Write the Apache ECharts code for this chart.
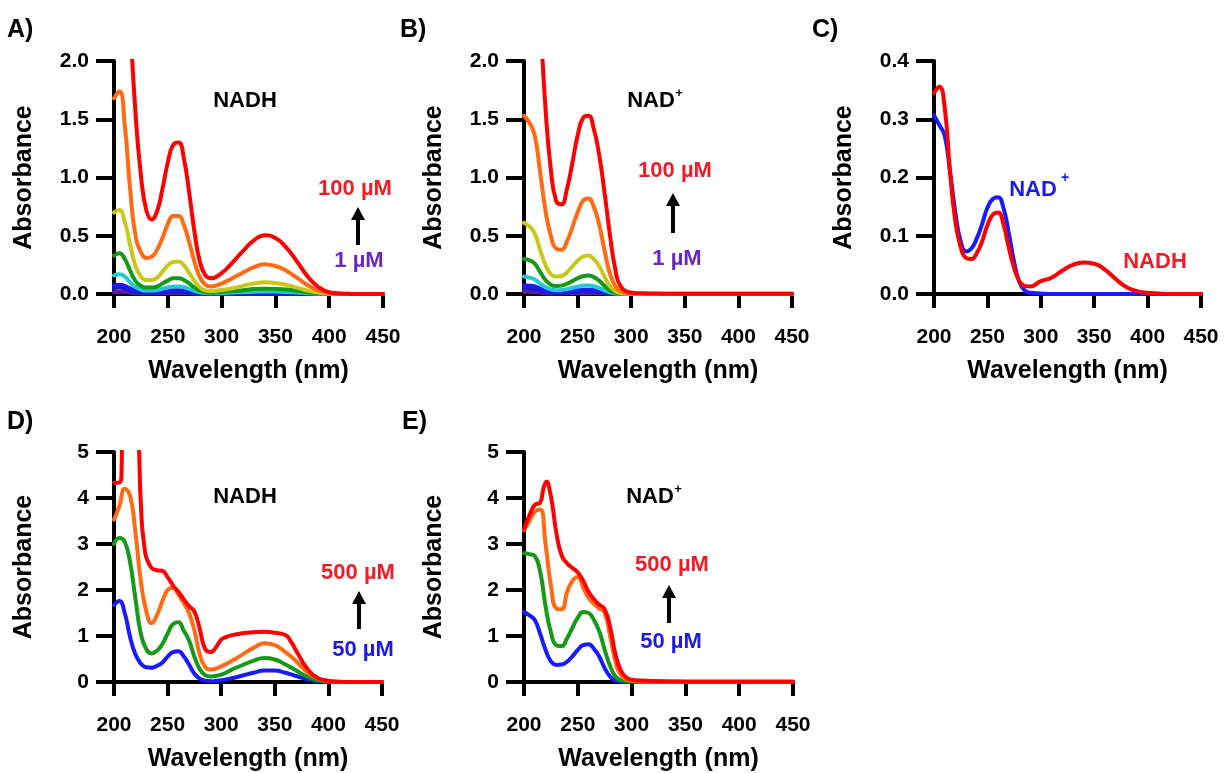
<!DOCTYPE html>
<html>
<head>
<meta charset="utf-8">
<script src="https://cdn.jsdelivr.net/npm/echarts@6/dist/echarts.min.js"></script>
<style>html,body{margin:0;padding:0;background:#fff;}#c{width:1225px;height:773px;}</style>
</head>
<body>
<div id="c"></div>
<script>
// ---------- DATA ----------
const WL = [200,205,210,215,220,225,230,235,240,245,250,255,260,265,270,275,280,285,290,300,310,320,330,340,350,360,370,380,390,400,410,420,450];

// Panel A: NADH 1–100 µM
const A_red    = [4.2,4.0,3.3,2.35,1.55,1.02,0.72,0.64,0.71,0.9,1.13,1.28,1.3,1.16,0.86,0.52,0.27,0.16,0.135,0.18,0.27,0.37,0.46,0.505,0.48,0.4,0.28,0.15,0.06,0.015,0.004,0.001,0];
const A_orange = [1.68,1.74,1.45,0.9,0.5,0.36,0.31,0.32,0.38,0.48,0.6,0.67,0.67,0.59,0.44,0.27,0.14,0.08,0.065,0.09,0.135,0.185,0.23,0.255,0.24,0.2,0.14,0.075,0.03,0.008,0.002,0,0];
const A_yellow = [0.7,0.72,0.62,0.42,0.24,0.15,0.12,0.12,0.14,0.19,0.245,0.275,0.28,0.245,0.18,0.11,0.055,0.03,0.025,0.035,0.05,0.07,0.09,0.1,0.095,0.08,0.055,0.03,0.012,0.003,0.001,0,0];
const A_green  = [0.33,0.35,0.3,0.2,0.11,0.07,0.055,0.055,0.065,0.09,0.115,0.135,0.135,0.12,0.09,0.055,0.028,0.015,0.012,0.018,0.025,0.033,0.042,0.046,0.044,0.038,0.027,0.015,0.006,0.002,0,0,0];
const A_cyan   = [0.16,0.17,0.15,0.1,0.06,0.038,0.03,0.03,0.035,0.045,0.056,0.064,0.065,0.058,0.044,0.027,0.014,0.008,0.006,0.008,0.012,0.016,0.02,0.022,0.021,0.018,0.013,0.007,0.003,0.001,0,0,0];
const A_blue   = [0.075,0.08,0.07,0.048,0.03,0.019,0.015,0.015,0.018,0.023,0.028,0.032,0.033,0.029,0.022,0.014,0.007,0.004,0.003,0.004,0.006,0.008,0.01,0.011,0.01,0.009,0.006,0.003,0.001,0,0,0,0];
const A_navy   = [0.05,0.055,0.048,0.032,0.02,0.013,0.01,0.01,0.012,0.015,0.019,0.021,0.022,0.019,0.015,0.009,0.005,0.003,0.002,0.003,0.004,0.005,0.006,0.007,0.007,0.006,0.004,0.002,0.001,0,0,0,0];
const A_purple = [0.018,0.02,0.017,0.012,0.007,0.005,0.004,0.004,0.004,0.005,0.006,0.007,0.007,0.006,0.005,0.003,0.002,0.001,0.001,0.001,0.001,0.002,0.002,0.002,0.002,0.002,0.001,0,0,0,0,0,0];

// Panel B: NAD+ 1–100 µM
const B_red    = [4.2,3.9,3.2,2.4,1.6,1.07,0.8,0.77,0.9,1.12,1.36,1.51,1.53,1.42,1.2,0.88,0.52,0.22,0.07,0.012,0.006,0.004,0.003,0.003,0.003,0.003,0.003,0.003,0.003,0.003,0.003,0.003,0.003];
const B_orange = [1.53,1.47,1.36,1.05,0.72,0.5,0.39,0.38,0.45,0.57,0.7,0.8,0.82,0.75,0.6,0.38,0.18,0.07,0.025,0.005,0.003,0.002,0.002,0.002,0.002,0.002,0.002,0.002,0.002,0.002,0.002,0.002,0.002];
const B_yellow = [0.61,0.58,0.52,0.38,0.25,0.17,0.15,0.155,0.185,0.235,0.285,0.32,0.33,0.3,0.24,0.15,0.07,0.025,0.008,0.002,0.001,0,0,0,0,0,0,0,0,0,0,0,0];
const B_green  = [0.3,0.29,0.26,0.19,0.12,0.08,0.068,0.072,0.088,0.11,0.135,0.152,0.158,0.145,0.115,0.07,0.032,0.011,0.004,0.001,0,0,0,0,0,0,0,0,0,0,0,0,0];
const B_cyan   = [0.15,0.14,0.125,0.09,0.058,0.04,0.033,0.035,0.042,0.052,0.063,0.07,0.072,0.066,0.052,0.032,0.015,0.005,0.002,0,0,0,0,0,0,0,0,0,0,0,0,0,0];
const B_blue   = [0.075,0.072,0.064,0.046,0.03,0.02,0.017,0.018,0.021,0.026,0.032,0.035,0.036,0.033,0.026,0.016,0.007,0.002,0.001,0,0,0,0,0,0,0,0,0,0,0,0,0,0];
const B_navy   = [0.05,0.048,0.042,0.03,0.02,0.014,0.011,0.012,0.014,0.017,0.021,0.023,0.024,0.022,0.017,0.011,0.005,0.002,0.001,0,0,0,0,0,0,0,0,0,0,0,0,0,0];
const B_purple = [0.02,0.019,0.017,0.012,0.008,0.005,0.004,0.005,0.006,0.007,0.008,0.009,0.009,0.008,0.007,0.004,0.002,0.001,0,0,0,0,0,0,0,0,0,0,0,0,0,0,0];

// Panel C: NADH vs NAD+
const C_nad  = [0.307,0.29,0.272,0.21,0.14,0.09,0.073,0.078,0.095,0.12,0.148,0.163,0.166,0.148,0.105,0.055,0.02,0.006,0.002,0.001,0,0,0,0,0,0,0,0,0,0,0,0,0];
const C_nadh = [0.345,0.356,0.32,0.21,0.125,0.08,0.062,0.06,0.07,0.09,0.118,0.136,0.14,0.12,0.08,0.045,0.022,0.014,0.013,0.022,0.028,0.04,0.05,0.054,0.052,0.042,0.026,0.012,0.005,0.002,0.001,0,0];

// Panel D: NADH 50–500 µM
const D_red_wl = [200,203,206,207,208,215,222,225,228,233,240,245,250,255,260,265,270,275,280,285,290,295,300,305,310,320,330,340,350,360,365,370,380,390,400,410,420,450];
const D_red    = [4.33,4.33,4.35,4.5,6.5,7,5.6,3.9,3.0,2.55,2.43,2.42,2.28,2.1,1.96,1.8,1.65,1.53,1.15,0.72,0.65,0.75,0.92,0.98,1.02,1.06,1.08,1.09,1.07,1.02,0.88,0.68,0.3,0.09,0.025,0.005,0,0];
const D_orange = [3.53,3.82,4.2,4.05,3.25,2.2,1.55,1.28,1.45,1.75,2.0,2.05,1.9,1.72,1.5,1.12,0.6,0.33,0.27,0.34,0.46,0.6,0.74,0.84,0.8,0.65,0.45,0.22,0.08,0.02,0.005,0,0];
const D_green  = [3.0,3.13,3.05,2.6,1.81,1.05,0.72,0.62,0.68,0.82,1.05,1.26,1.3,1.12,0.9,0.55,0.28,0.15,0.12,0.16,0.27,0.37,0.46,0.52,0.49,0.38,0.25,0.12,0.04,0.01,0,0,0];
const D_blue   = [1.67,1.76,1.5,0.98,0.6,0.4,0.32,0.31,0.35,0.42,0.55,0.65,0.67,0.56,0.38,0.18,0.07,0.03,0.015,0.04,0.08,0.14,0.2,0.25,0.25,0.2,0.13,0.06,0.02,0.005,0,0,0];

// Panel E: NAD+ 50–500 µM
const E_red_wl = [200,205,210,215,218,221,224,227,230,235,240,245,250,255,260,265,270,275,280,285,290,295,300,310,320,330,340,350,360,370,380,390,400,410,420,450];
const E_red    = [3.32,3.62,3.85,3.9,4.2,4.36,4.15,3.75,3.25,2.75,2.58,2.48,2.38,2.2,1.96,1.8,1.68,1.58,1.2,0.6,0.25,0.1,0.05,0.03,0.02,0.015,0.01,0.008,0.006,0.005,0.005,0.005,0.005,0.005,0.005,0.005];
const E_orange = [3.3,3.5,3.7,3.75,3.0,2.1,1.6,1.58,1.95,2.2,2.28,2.05,1.83,1.7,1.6,1.5,1.0,0.45,0.16,0.03,0.015,0.01,0.008,0.006,0.005,0.005,0.005,0.005,0.005,0.005,0.005,0.005,0.005];
const E_green  = [2.8,2.78,2.74,2.4,1.65,1.08,0.8,0.78,0.95,1.18,1.4,1.52,1.5,1.35,1.1,0.7,0.35,0.12,0.04,0.01,0.005,0.005,0.005,0.005,0.005,0.005,0.005,0.005,0.005,0.005,0.005,0.005,0.005];
const E_blue   = [1.52,1.45,1.35,1.05,0.7,0.45,0.37,0.38,0.44,0.56,0.7,0.8,0.82,0.72,0.55,0.3,0.12,0.03,0.008,0.003,0.002,0.002,0.002,0.002,0.002,0.002,0.002,0.002,0.002,0.002,0.002,0.002,0.002];

const X_TICKS = [200,250,300,350,400,450];

// ---------- CHART ----------
const FONT = 'Liberation Sans, Arial, sans-serif';
const COL = {red:'#ff0000', orange:'#ff6a12', yellow:'#c8c81c', green:'#159a15', cyan:'#22c8d2', blue:'#1a1aff', navy:'#1c1cb8', purple:'#5a1ab0'};

const grids = [
  {left:114, top:61,  width:269, height:233},
  {left:524, top:61,  width:268, height:233},
  {left:934, top:61,  width:267, height:233},
  {left:114, top:452, width:268, height:232},
  {left:524, top:452, width:269, height:232}
];
const yCfg = [
  {max:2, interval:0.5, dec:1},
  {max:2, interval:0.5, dec:1},
  {max:0.4, interval:0.1, dec:1},
  {max:5, interval:1, dec:0},
  {max:5, interval:1, dec:0}
];
const axLine = {show:true, lineStyle:{color:'#000', width:4}};
const xAxes = grids.map((g,i)=>({
  gridIndex:i, type:'value', min:X_TICKS[0], max:X_TICKS[X_TICKS.length-1], interval:50,
  axisLine:axLine, axisTick:{show:true, length:14, lineStyle:{color:'#000', width:4}},
  splitLine:{show:false},
  axisLabel:{fontSize:21, fontWeight:'bold', color:'#000', fontFamily:FONT, margin:33},
  name:'Wavelength (nm)', nameLocation:'middle', nameGap:65,
  nameTextStyle:{fontSize:25, fontWeight:'bold', color:'#000', fontFamily:FONT}
}));
const yAxes = grids.map((g,i)=>({
  gridIndex:i, type:'value', min:0, max:yCfg[i].max, interval:yCfg[i].interval,
  axisLine:axLine, axisTick:{show:true, length:18, lineStyle:{color:'#000', width:4}},
  splitLine:{show:false},
  axisLabel:{fontSize:21, fontWeight:'bold', color:'#000', fontFamily:FONT, margin:25,
    formatter:v=>v.toFixed(yCfg[i].dec)},
  name:'Absorbance', nameLocation:'middle', nameGap:77,
  nameTextStyle:{fontSize:25, fontWeight:'bold', color:'#000', fontFamily:FONT}
}));

function pairs(xs, ys){ return xs.map((x,k)=>[x, ys[k]]); }
function line(idx, color, xs, ys){
  return {type:'line', xAxisIndex:idx, yAxisIndex:idx, data:pairs(xs,ys), smooth:0.5,
    showSymbol:false, symbol:'none', clip:true, lineStyle:{color:color, width:4, join:'round', cap:'round'}, itemStyle:{color:color},
    silent:true, animation:false};
}
const series = [
  line(0,COL.purple,WL,A_purple), line(0,COL.navy,WL,A_navy), line(0,COL.blue,WL,A_blue), line(0,COL.cyan,WL,A_cyan),
  line(0,COL.green,WL,A_green), line(0,COL.yellow,WL,A_yellow), line(0,COL.orange,WL,A_orange), line(0,COL.red,WL,A_red),
  line(1,COL.purple,WL,B_purple), line(1,COL.navy,WL,B_navy), line(1,COL.blue,WL,B_blue), line(1,COL.cyan,WL,B_cyan),
  line(1,COL.green,WL,B_green), line(1,COL.yellow,WL,B_yellow), line(1,COL.orange,WL,B_orange), line(1,COL.red,WL,B_red),
  line(2,COL.blue,WL,C_nad), line(2,COL.red,WL,C_nadh),
  line(3,COL.blue,WL,D_blue), line(3,COL.green,WL,D_green), line(3,COL.orange,WL,D_orange), line(3,COL.red,D_red_wl,D_red),
  line(4,COL.blue,WL,E_blue), line(4,COL.green,WL,E_green), line(4,COL.orange,WL,E_orange), line(4,COL.red,E_red_wl,E_red)
];

function txt(x,y,s,size,color,align){
  return {type:'text', x:x, y:y, silent:true, z:100,
    style:{text:s, fill:color||'#000', font:'bold '+size+'px '+FONT, textAlign:align||'center', textVerticalAlign:'middle'}};
}
function arrow(x,tip,tail){
  return [
    {type:'line', silent:true, z:100, shape:{x1:x,y1:tail,x2:x,y2:tip+10}, style:{stroke:'#000', lineWidth:4}},
    {type:'polygon', silent:true, z:100, shape:{points:[[x,tip],[x-7,tip+13],[x+7,tip+13]]}, style:{fill:'#000'}}
  ];
}
const RED_T = '#f01c24', PUR_T = '#6a28c0', BLU_T = '#1a1af0';
const graphic = [
  txt(7,30,'A)',25,'#000','left'), txt(400,30,'B)',25,'#000','left'), txt(812,30,'C)',25,'#000','left'),
  txt(7,422,'D)',25,'#000','left'), txt(402,422,'E)',25,'#000','left'),
  txt(245,101,'NADH',22), txt(651,101,'NAD',22), txt(679,93,'+',13),
  txt(355,189,'100 µM',22,RED_T), txt(359,261,'1 µM',22,PUR_T),
  txt(675,171,'100 µM',22,RED_T), txt(677,259,'1 µM',22,PUR_T),
  txt(1033,190,'NAD',22,BLU_T), txt(1065,178,'+',14,BLU_T), txt(1155,262,'NADH',22,RED_T),
  txt(245,497,'NADH',22), txt(650,497,'NAD',22), txt(678,489,'+',13),
  txt(358,573,'500 µM',22,RED_T), txt(363,650,'50 µM',22,BLU_T),
  txt(672,565,'500 µM',22,RED_T), txt(671,642,'50 µM',22,BLU_T),
  ...arrow(358,207,245), ...arrow(673,193,233), ...arrow(359,591,629), ...arrow(669,585,623)
];

const chart = echarts.init(document.getElementById('c'), null, {renderer:'canvas'});
chart.setOption({
  animation:false, backgroundColor:'#fff',
  textStyle:{fontFamily:FONT},
  grid:grids, xAxis:xAxes, yAxis:yAxes, series:series, graphic:graphic
});
</script>
</body>
</html>
